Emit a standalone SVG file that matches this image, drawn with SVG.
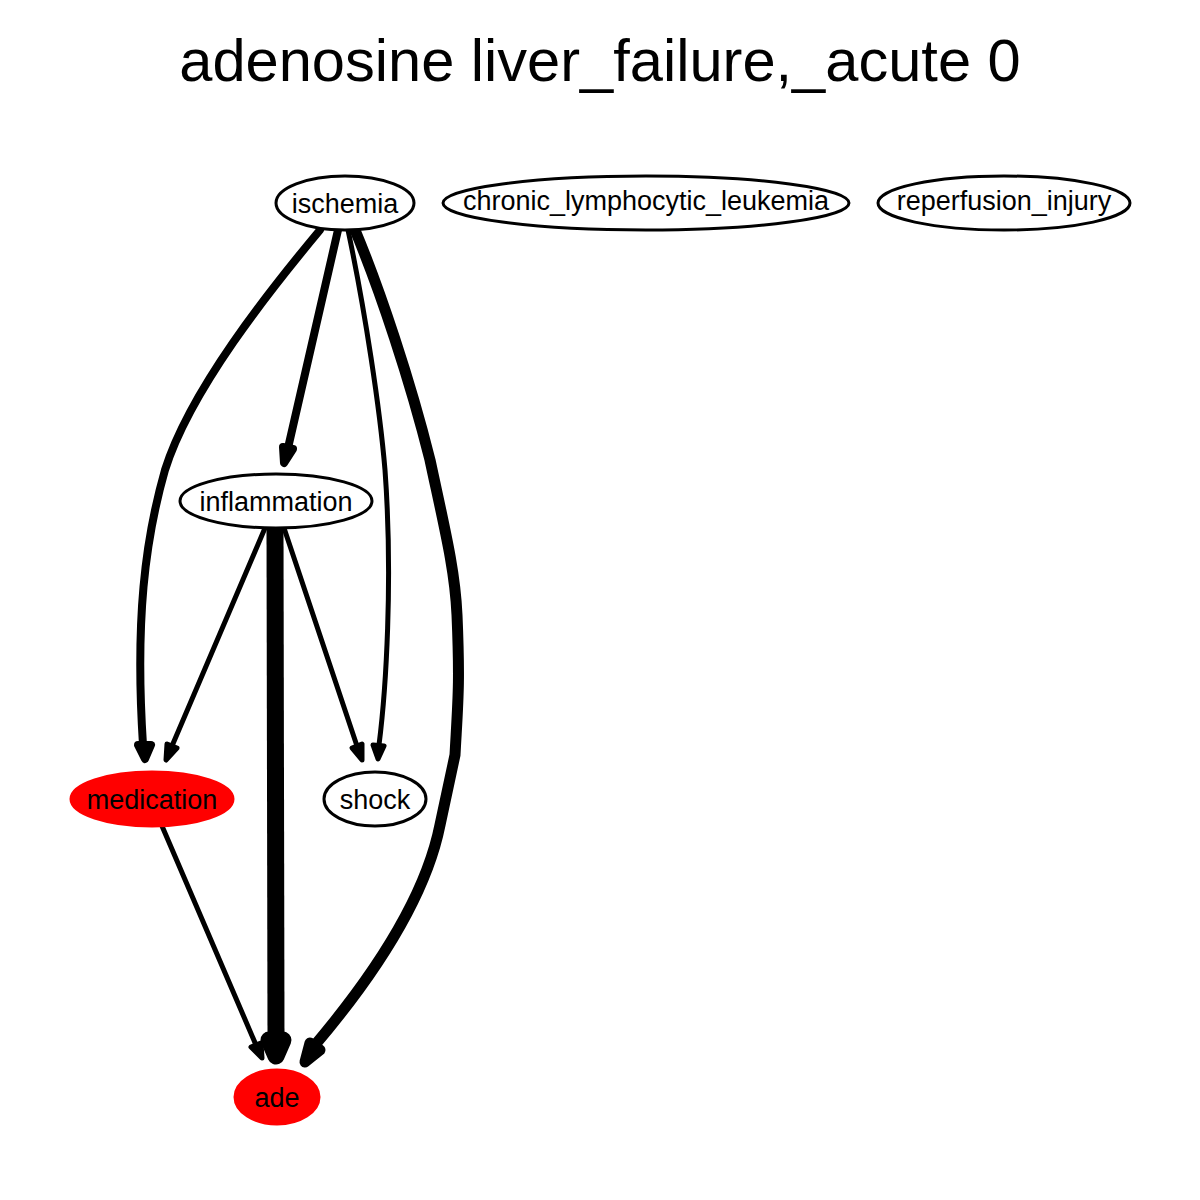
<svg xmlns="http://www.w3.org/2000/svg" width="1200" height="1200" viewBox="0 0 1200 1200">
<style>
.node ellipse{stroke:#000;stroke-width:3;fill:#fff}
.node.red ellipse{fill:#f00;stroke:#f00}
.node text{font-family:"Liberation Sans",Arial,sans-serif;font-size:27px;text-anchor:middle;fill:#000}
.title{font-family:"Liberation Sans",Arial,sans-serif;font-size:59.6px;text-anchor:middle;fill:#000}
#edges path{fill:none;stroke:#000;stroke-linecap:round}
#edges polygon{fill:#000;stroke:#000;stroke-linejoin:round}
</style>
<rect width="1200" height="1200" fill="#fff"/>
<text class="title" x="600" y="81">adenosine liver_failure,_acute 0</text>
<g id="edges">
<g id="e1"><path d="M320,230 C270,290 190,390 165,470 C145,540 135,620 143,745" stroke-width="8"/><polygon points="138,745 145,759 151,745" stroke-width="8"/></g>
<g id="e2"><path d="M338,230 L288,448" stroke-width="8"/><polygon points="293,449 284,463 283,447" stroke-width="8"/></g>
<g id="e3"><path d="M348,230 C365,310 380,410 385,470 C393,580 386,690 379,745" stroke-width="5"/><polygon points="373,745 378,759 384,746" stroke-width="5"/></g>
<g id="e4"><path d="M355,230 C380,290 410,380 430,460 C445,530 455,570 457,615 C460,685 458,700 455,755 L440,825 C425,900 370,980 315,1045" stroke-width="11"/><polygon points="320,1050 305,1062 310,1043" stroke-width="11"/></g>
<g id="e5"><path d="M265,528 L172,746" stroke-width="5"/><polygon points="177,748 166,760 167,744" stroke-width="5"/></g>
<g id="e6"><path d="M284,528 L357,746" stroke-width="5"/><polygon points="362,744 362,760 352,748" stroke-width="5"/></g>
<g id="e7"><path d="M275,528 L276,1040" stroke-width="17"/><polygon points="269,1040 276,1056 283,1040" stroke-width="17"/></g>
<g id="e8"><path d="M162,826 L256,1045" stroke-width="5"/><polygon points="261,1043 262,1058 251,1047" stroke-width="5"/></g>
</g>
<g id="ischemia" class="node"><ellipse cx="345" cy="203" rx="69" ry="27"/><text x="345" y="213">ischemia</text></g>
<g id="chronic_lymphocytic_leukemia" class="node"><ellipse cx="646" cy="203" rx="203" ry="27"/><text x="646" y="210">chronic_lymphocytic_leukemia</text></g>
<g id="reperfusion_injury" class="node"><ellipse cx="1004" cy="203" rx="126" ry="27"/><text x="1004" y="210">reperfusion_injury</text></g>
<g id="inflammation" class="node"><ellipse cx="276" cy="501" rx="96" ry="27"/><text x="276" y="511">inflammation</text></g>
<g id="medication" class="node red"><ellipse cx="152" cy="799" rx="81" ry="27"/><text x="152" y="809">medication</text></g>
<g id="shock" class="node"><ellipse cx="375" cy="799" rx="51" ry="27"/><text x="375" y="809">shock</text></g>
<g id="ade" class="node red"><ellipse cx="277" cy="1097" rx="42" ry="27"/><text x="277" y="1107">ade</text></g>
</svg>
